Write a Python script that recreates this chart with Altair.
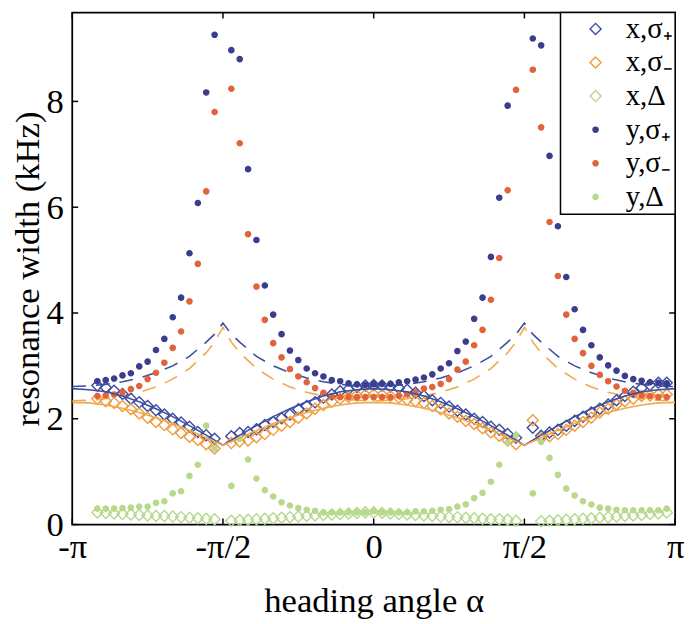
import altair as alt
import pandas as pd

# ---------------- data ----------------
angles = [-165, -160, -155, -150, -145, -140, -135, -130, -125, -120, -115, -110, -105, -100, -95, -90,
          -85, -80, -75, -70, -65, -60, -55, -50, -45, -40, -35, -30, -25, -20, -15, -10, -5,
          0, 5, 10, 15, 20, 25, 30, 35, 40, 45, 50, 55, 60, 65, 70, 75, 80, 85, 90,
          95, 100, 105, 110, 115, 120, 125, 130, 135, 140, 145, 150, 155, 160, 165, 170, 175]

x_sigma_plus = [2.63, 2.59, 2.53, 2.47, 2.38, 2.31, 2.24, 2.16, 2.08, 2.00, 1.93, 1.85, 1.75, 1.69, 1.62, None,
                1.67, 1.73, 1.75, 1.80, 1.88, 1.94, 2.01, 2.08, 2.18, 2.24, 2.31, 2.40, 2.46, 2.52, 2.56, 2.60, 2.63,
                2.64, 2.63, 2.61, 2.58, 2.55, 2.49, 2.43, 2.35, 2.30, 2.23, 2.15, 2.08, 2.00, 1.94, 1.85, 1.79, 1.71, 1.64, None,
                1.83, 1.68, 1.74, 1.79, 1.87, 1.96, 2.04, 2.12, 2.19, 2.27, 2.35, 2.43, 2.51, 2.58, 2.64, 2.68, 2.68]
x_sigma_minus = [2.38, 2.33, 2.30, 2.24, 2.18, 2.10, 2.02, 1.94, 1.88, 1.80, 1.73, 1.66, 1.60, 1.52, 1.44, None,
                 1.54, 1.57, 1.59, 1.65, 1.71, 1.79, 1.87, 1.94, 2.02, 2.10, 2.19, 2.26, 2.32, 2.38, 2.41, 2.44, 2.45,
                 2.46, 2.45, 2.43, 2.40, 2.36, 2.33, 2.30, 2.24, 2.18, 2.10, 2.04, 1.96, 1.90, 1.82, 1.74, 1.68, 1.59, 1.52, None,
                 1.97, 1.63, 1.67, 1.71, 1.79, 1.87, 1.94, 2.02, 2.12, 2.19, 2.27, 2.33, 2.38, 2.43, 2.44, 2.46, 2.46]
x_delta = [0.23, 0.22, 0.21, 0.20, 0.19, 0.18, 0.17, 0.16, 0.16, 0.15, 0.14, 0.13, 0.12, 0.11, 0.10, None,
           0.07, 0.08, 0.09, 0.10, 0.11, 0.12, 0.13, 0.14, 0.15, 0.16, 0.17, 0.18, 0.19, 0.20, 0.21, 0.22, 0.23,
           0.23, 0.22, 0.21, 0.20, 0.19, 0.18, 0.17, 0.16, 0.15, 0.14, 0.14, 0.13, 0.12, 0.11, 0.10, 0.10, 0.09, 0.07, None,
           None, 0.06, 0.07, 0.08, 0.09, 0.10, 0.11, 0.12, 0.13, 0.14, 0.15, 0.16, 0.17, 0.18, 0.20, 0.21, 0.23]
y_sigma_plus = [2.71, 2.73, 2.76, 2.82, 2.86, 2.99, 3.08, 3.30, 3.51, 3.92, 4.29, 5.13, 6.08, 8.17, 9.26, None,
                8.97, 8.80, 6.72, 5.38, 4.52, 3.97, 3.60, 3.29, 3.11, 2.95, 2.86, 2.80, 2.73, 2.71, 2.67, 2.65, 2.64,
                2.66, 2.66, 2.66, 2.69, 2.71, 2.74, 2.78, 2.84, 2.95, 3.05, 3.28, 3.46, 3.89, 4.29, 5.06, 6.18, 7.92, None, None,
                9.19, 9.06, 6.97, 5.64, 4.68, 4.07, 3.68, 3.39, 3.16, 3.01, 2.91, 2.81, 2.75, 2.72, 2.69, 2.68, 2.67]
y_sigma_minus = [2.43, 2.44, 2.46, 2.50, 2.56, 2.62, 2.75, 2.87, 3.06, 3.34, 3.65, 4.22, 4.93, 6.30, 7.80, None,
                 8.24, 7.21, 5.49, 4.50, 3.87, 3.43, 3.16, 2.94, 2.80, 2.69, 2.58, 2.49, 2.43, 2.41, 2.41, 2.41, 2.41,
                 2.41, 2.41, 2.41, 2.43, 2.46, 2.50, 2.57, 2.60, 2.66, 2.75, 2.93, 3.08, 3.39, 3.68, 4.25, 5.04, 6.32, 8.22, None,
                 8.60, 7.51, 5.72, 4.70, 3.97, 3.51, 3.24, 3.00, 2.83, 2.71, 2.61, 2.53, 2.49, 2.44, 2.43, 2.41, 2.41]
y_delta = [0.30, 0.30, 0.30, 0.31, 0.32, 0.34, 0.34, 0.41, 0.44, 0.59, 0.63, 0.92, 1.13, 1.87, 1.44, None,
           0.73, 1.62, 1.23, 0.87, 0.65, 0.53, 0.42, 0.36, 0.31, 0.28, 0.26, 0.23, 0.23, 0.23, 0.23, 0.23, 0.23,
           0.25, 0.23, 0.23, 0.23, 0.23, 0.25, 0.25, 0.26, 0.28, 0.29, 0.34, 0.38, 0.50, 0.60, 0.81, 1.13, 1.55, 1.69, None,
           0.59, 1.56, 1.26, 0.94, 0.68, 0.55, 0.44, 0.38, 0.32, 0.30, 0.28, 0.27, 0.27, 0.27, 0.27, 0.27, 0.30]

# model curves
solid_angles = [-180, -170, -160, -150, -140, -130, -120, -110, -100, -90, -80, -70, -60, -50, -40, -30, -20, -10,
                0, 10, 20, 30, 40, 50, 60, 70, 80, 90, 100, 110, 120, 130, 140, 150, 160, 170, 180]
solid_blue = [2.57, 2.55, 2.51, 2.43, 2.32, 2.19, 2.04, 1.87, 1.69, 1.50, 1.69, 1.87, 2.04, 2.19, 2.32, 2.43, 2.51, 2.55,
              2.57, 2.55, 2.51, 2.43, 2.32, 2.19, 2.04, 1.87, 1.69, 1.50, 1.69, 1.87, 2.04, 2.19, 2.32, 2.43, 2.51, 2.55, 2.57]
solid_orange = [2.31, 2.30, 2.26, 2.20, 2.12, 2.02, 1.91, 1.78, 1.64, 1.50, 1.64, 1.78, 1.91, 2.02, 2.12, 2.20, 2.26, 2.30,
                2.31, 2.30, 2.26, 2.20, 2.12, 2.02, 1.91, 1.78, 1.64, 1.50, 1.64, 1.78, 1.91, 2.02, 2.12, 2.20, 2.26, 2.30, 2.31]

dashed_angles = [-180, -170, -160, -150, -140, -130, -120, -110, -100, -95, -90, -85, -80, -70, -60, -50, -40, -30, -20, -10,
                 0, 10, 20, 30, 40, 50, 60, 70, 80, 85, 90, 95, 100, 110, 120, 130, 140, 150, 160, 170, 180]
dashed_blue = [2.61, 2.62, 2.65, 2.70, 2.77, 2.87, 3.00, 3.18, 3.45, 3.60, 3.81, 3.60, 3.45, 3.18, 3.00, 2.87, 2.77, 2.70, 2.65, 2.62,
               2.61, 2.62, 2.65, 2.70, 2.77, 2.87, 3.00, 3.18, 3.45, 3.60, 3.81, 3.60, 3.45, 3.18, 3.00, 2.87, 2.77, 2.70, 2.65, 2.62, 2.61]
dashed_orange = [2.34, 2.35, 2.38, 2.43, 2.50, 2.60, 2.75, 2.95, 3.25, 3.45, 3.73, 3.45, 3.25, 2.95, 2.75, 2.60, 2.50, 2.43, 2.38, 2.35,
                 2.34, 2.35, 2.38, 2.43, 2.50, 2.60, 2.75, 2.95, 3.25, 3.45, 3.73, 3.45, 3.25, 2.95, 2.75, 2.60, 2.50, 2.43, 2.38, 2.35, 2.34]

series_names = ["x,σ₊", "x,σ₋", "x,Δ", "y,σ₊", "y,σ₋", "y,Δ"]
series_values = [x_sigma_plus, x_sigma_minus, x_delta, y_sigma_plus, y_sigma_minus, y_delta]
series_colors = ["#3B4CA0", "#EF9B3F", "#B6D78C", "#3A3E8C", "#E2633A", "#B8D98B"]
series_fills = ["transparent", "transparent", "transparent", "#3A3E8C", "#E2633A", "#B8D98B"]
series_shapes = ["diamond", "diamond", "diamond", "circle", "circle", "circle"]
series_sizes = [125, 125, 125, 28, 28, 28]

x_tick_vals = [-180, -90, 0, 90, 180]
y_tick_vals = [0, 2, 4, 6, 8]

# ---------------- build tables ----------------
rows = []
for name, vals in zip(series_names, series_values):
    for a, v in zip(angles, vals):
        if v is not None:
            rows.append({"angle": a, "value": v, "series": name})
pts = pd.DataFrame(rows)

W, H = 610, 518
FONT = "Liberation Serif"
FS = 35
TL = 6  # inward tick length

xscale = alt.Scale(domain=[-180, 180], nice=False, zero=False)
yscale = alt.Scale(domain=[0, 9.68], nice=False, zero=True)

xaxis = alt.Axis(values=x_tick_vals, grid=False, ticks=False, domain=False,
                 labelExpr="datum.value == -180 ? '-π' : datum.value == -90 ? '-π/2' : datum.value == 0 ? '0' : datum.value == 90 ? 'π/2' : 'π'",
                 labelFlush=False, labelOverlap=False, labelFontSize=FS, labelPadding=5,
                 title="heading angle α", titleFontSize=FS, titleFontWeight="normal", titlePadding=20)
yaxis = alt.Axis(values=y_tick_vals, grid=False, ticks=False, domain=False,
                 labelFontSize=FS, labelPadding=9,
                 title="resonance width (kHz)", titleFontSize=FS, titleFontWeight="normal", titlePadding=1)

X = alt.X("angle:Q", scale=xscale, axis=xaxis)
Y = alt.Y("value:Q", scale=yscale, axis=yaxis)


def line_layer(a, v, color, dash=None):
    df = pd.DataFrame({"angle": a, "value": v})
    kw = dict(strokeWidth=1.6, color=color, clip=True)
    if dash:
        kw["strokeDash"] = dash
    return alt.Chart(df).mark_line(**kw).encode(x=X, y=Y)


dashed_b = line_layer(dashed_angles, dashed_blue, "#3D4FA0", [14, 10])
dashed_o = line_layer(dashed_angles, dashed_orange, "#F0AA50", [14, 10])
solid_b = line_layer(solid_angles, solid_blue, "#3D4FA0")
solid_o = line_layer(solid_angles, solid_orange, "#F0AA50")

# blank left-side legend title acts as the left margin inside the legend box
leg = alt.Legend(title="\u00a0", titleOrient="left", titleFontSize=6, titlePadding=19,
                 orient="top-right", offset=0)
points = alt.Chart(pts).mark_point(filled=False, strokeWidth=1.4, opacity=1).encode(
    x=X, y=Y,
    color=alt.Color("series:N", scale=alt.Scale(domain=series_names, range=series_colors), legend=leg),
    fill=alt.Fill("series:N", scale=alt.Scale(domain=series_names, range=series_fills), legend=leg),
    shape=alt.Shape("series:N", scale=alt.Scale(domain=series_names, range=series_shapes), legend=leg),
    size=alt.Size("series:N", scale=alt.Scale(type="ordinal", domain=series_names, range=series_sizes), legend=leg),
)

# inward tick marks (MATLAB style)
yt = pd.DataFrame({"value": y_tick_vals})
xt = pd.DataFrame({"angle": x_tick_vals})
tick_l = alt.Chart(yt).mark_rule(color="black", strokeWidth=1.5).encode(y=Y, x=alt.value(0), x2=alt.value(TL))
tick_r = alt.Chart(yt).mark_rule(color="black", strokeWidth=1.5).encode(y=Y, x=alt.value(W - TL), x2=alt.value(W))
tick_b = alt.Chart(xt).mark_rule(color="black", strokeWidth=1.5).encode(x=X, y=alt.value(H), y2=alt.value(H - TL))
tick_t = alt.Chart(xt).mark_rule(color="black", strokeWidth=1.5).encode(x=X, y=alt.value(0), y2=alt.value(TL))

chart = alt.layer(
    dashed_b, dashed_o, points, solid_b, solid_o, tick_l, tick_r, tick_b, tick_t
).properties(
    width=W, height=H,
    autosize=alt.AutoSizeParams(type="none"),
    padding={"left": 65, "top": 1, "right": 11, "bottom": 97},
).configure(
    font=FONT,
).configure_view(
    stroke="black", strokeWidth=1.8
).configure_axis(
    labelColor="black", titleColor="black", labelFont=FONT, titleFont=FONT
).configure_legend(
    labelFont=FONT, labelFontSize=29, labelColor="black",
    strokeColor="black", strokeWidth=1.5, fillColor="white",
    padding=2, rowPadding=4, symbolOffset=0, labelOffset=16,
    symbolStrokeWidth=1.4, labelLimit=200, cornerRadius=0
)

chart.save("out.html", embed_options={"renderer": "svg", "actions": False})
